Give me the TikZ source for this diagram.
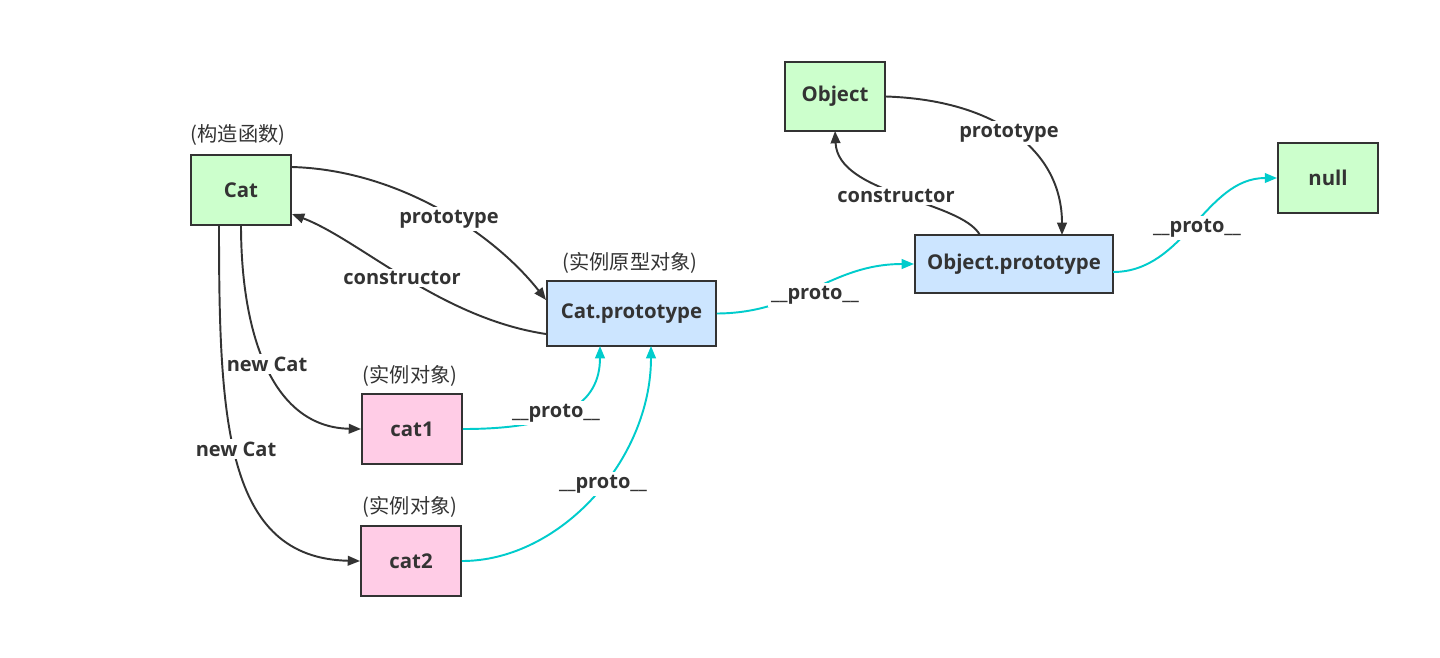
\documentclass[tikz,border=0pt]{standalone}
\usepackage{fontspec}
\setmainfont{Open Sans}
\newfontfamily\cjk{Noto Sans CJK SC}
\usetikzlibrary{arrows.meta}
\definecolor{edgegray}{HTML}{333333}
\definecolor{cgreen}{HTML}{CCFFCC}
\definecolor{cblue}{HTML}{CCE5FF}
\definecolor{cpink}{HTML}{FFCCE6}
\definecolor{ccyan}{HTML}{00CCCC}
\tikzset{
  box/.style={draw=edgegray, line width=1.1pt, font=\fontsize{11.6}{13}\selectfont\bfseries, text=edgegray, inner sep=0pt},
  gbox/.style={box, fill=cgreen},
  bbox/.style={box, fill=cblue},
  pbox/.style={box, fill=cpink},
  darr/.style={draw=edgegray, line width=1.1pt, -{Triangle[length=7pt,width=5.5pt]}},
  carr/.style={draw=ccyan, line width=1.1pt, -{Triangle[length=7pt,width=5.5pt]}},
  lbl/.style={fill=white, inner sep=1.5pt, text=edgegray, font=\fontsize{11.4}{13}\selectfont\bfseries},
  note/.style={inner sep=0pt, text=edgegray, font=\cjk\fontsize{11.5}{13}\selectfont}
}
\begin{document}
\begin{tikzpicture}[x=0.02cm, y=-0.02cm]
\useasboundingbox[fill=white] (0,0) rectangle (1440,657);
% nodes
\node[gbox, minimum width=100*0.02cm, minimum height=70*0.02cm] (cat) at (241,190) {Cat};
\node[bbox, minimum width=169*0.02cm, minimum height=65*0.02cm] (catp) at (631.5,313.5) {Cat.prototype};
\node[pbox, minimum width=100*0.02cm, minimum height=70*0.02cm] (c1) at (412,429) {cat1};
\node[pbox, minimum width=100*0.02cm, minimum height=70*0.02cm] (c2) at (411,561) {cat2};
\node[gbox, minimum width=100*0.02cm, minimum height=69*0.02cm] (obj) at (835,96.5) {Object};
\node[bbox, minimum width=198*0.02cm, minimum height=58*0.02cm] (objp) at (1014,264) {Object.prototype};
\node[gbox, minimum width=100*0.02cm, minimum height=70*0.02cm] (nul) at (1328,178) {null};
% notes
\node[note] (n1) at (238,135) {(构造函数)};
\node[note] (n2) at (630,263) {(实例原型对象)};
\node[note] (n3) at (410,376) {(实例对象)};
\node[note] (n4) at (410,507) {(实例对象)};
% edges
\draw[darr] (cat.east |- 0,167) .. controls (400,170) and (495,235) .. (catp.west |- 0,300);
\draw[darr] (catp.west |- 0,334) .. controls (440,318) and (360,240) .. (cat.east |- 0,214);
\draw[darr] (241,225) .. controls (241,330) and (270,427) .. (c1.west);
\draw[darr] (219,225) .. controls (219,420) and (225,558) .. (c2.west);
\draw[carr] (c1.east) .. controls (560,429) and (600,405) .. (600,346);
\draw[carr] (c2.east) .. controls (560,561) and (651,460) .. (651,346);
\draw[carr] (catp.east) .. controls (800,313) and (830,264) .. (objp.west);
\draw[darr] (obj.east) .. controls (995,100) and (1062,150) .. (1062,235);
\draw[darr] (980,235) .. controls (960,200) and (838,195) .. (835,131);
\draw[carr] (1113,272) .. controls (1185,272) and (1205,178) .. (nul.west);
% labels
\node[lbl] (l1) at (449,219) {prototype};
\node[lbl] (l2) at (402,278) {constructor};
\node[lbl] (l3) at (267,364) {new Cat};
\node[lbl] (l4) at (236,449) {new Cat};
\node[lbl] (l5) at (556,413) {\_\_proto\_\_};
\node[lbl] (l6) at (603,484) {\_\_proto\_\_};
\node[lbl] (l7) at (815,295) {\_\_proto\_\_};
\node[lbl] (l8) at (1009,133) {prototype};
\node[lbl] (l9) at (896,196) {constructor};
\node[lbl] (l10) at (1197,228) {\_\_proto\_\_};
\end{tikzpicture}
\end{document}
